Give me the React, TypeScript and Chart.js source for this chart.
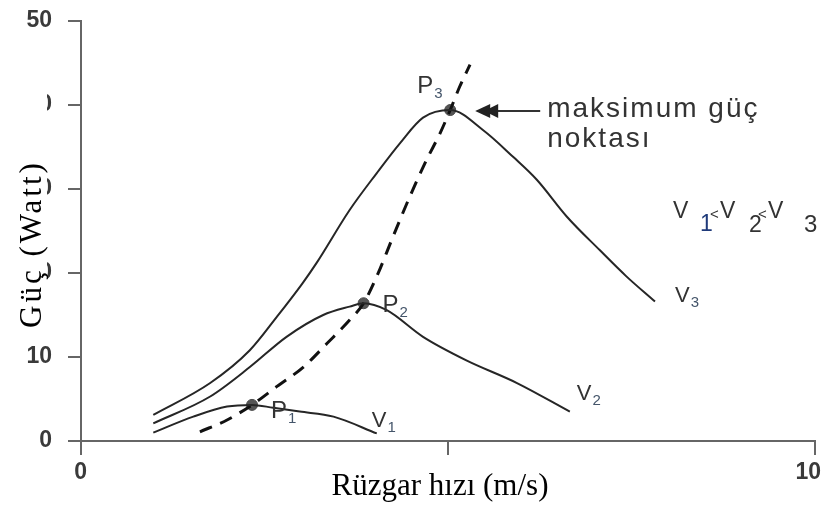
import React, { useEffect, useRef } from "react";
import { Chart, registerables } from "chart.js";

Chart.register(...registerables);

// Wind speed (m/s) and power (W) along each turbine curve
const speedV1 = [0.985, 1.53, 1.99, 2.33, 2.62, 2.98, 3.44, 4.03];
const powerV1 = [1.0, 2.9, 4.1, 4.3, 3.95, 3.5, 2.9, 0.9];

const speedV2 = [0.985, 1.76, 2.3, 2.8, 3.3, 3.66, 3.85, 4.16, 4.66, 5.25, 5.94, 6.66];
const powerV2 = [2.1, 5.3, 8.8, 12.4, 15.0, 16.0, 16.4, 15.6, 12.4, 9.6, 6.9, 3.5];

const speedV3 = [0.985, 1.76, 2.3, 2.67, 3.02, 3.21, 3.66, 4.03, 4.35, 4.66, 5.03, 5.48, 5.89, 6.21, 6.62, 7.07, 7.43, 7.82];
const powerV3 = [3.1, 6.9, 10.8, 14.8, 18.8, 21.2, 27.5, 31.9, 35.5, 38.5, 39.4, 37.0, 33.8, 31.1, 26.7, 22.7, 19.6, 16.6];

// Maximum power point tracking curve
const speedMpp = [1.62, 1.99, 2.33, 2.67, 3.03, 3.35, 3.66, 3.85, 4.03, 4.25, 4.48, 4.71, 4.89, 5.03, 5.16, 5.3];
const powerMpp = [1.1, 2.5, 4.3, 6.5, 8.8, 11.6, 14.4, 16.4, 19.6, 24.3, 29.1, 33.5, 36.6, 39.4, 42.2, 44.8];

// Peak points P1..P3
const peakSpeed = [2.33, 3.85, 5.03];
const peakPower = [4.3, 16.4, 39.4];
const peakSubs = ["1", "2", "3"];
const curveSubs = ["1", "2", "3"];

const xTicksShown = [0, 10];
const xTitle = "Rüzgar hızı (m/s)";
const yTitle = "Güç (Watt)";
const noteLines = ["maksimum güç", "noktası"];

const toPts = (xs: number[], ys: number[]) => xs.map((x, i) => ({ x, y: ys[i] }));

const SANS = '"Liberation Sans", Arial, sans-serif';
const SERIF = '"Liberation Serif", "Times New Roman", serif';

function subbed(
  ctx: CanvasRenderingContext2D,
  main: string,
  sub: string,
  x: number,
  base: number,
  mainSize: number,
  subSize: number,
  drop: number,
  color: string,
  subColor: string
) {
  ctx.font = `${mainSize}px ${SANS}`;
  ctx.fillStyle = color;
  ctx.fillText(main, x, base);
  const w = ctx.measureText(main).width;
  ctx.font = `${subSize}px ${SANS}`;
  ctx.fillStyle = subColor;
  ctx.fillText(sub, x + w + 1, base + drop);
}

const annotate = {
  id: "annotate",
  afterDraw(chart: any) {
    const { ctx } = chart;
    const xs = chart.scales.x;
    const ys = chart.scales.y;
    const px = (v: number) => xs.getPixelForValue(v);
    const py = (v: number) => ys.getPixelForValue(v);
    ctx.save();
    ctx.textAlign = "left";
    ctx.textBaseline = "alphabetic";

    // P labels next to each peak
    const pOff = [
      [19, 13],
      [19, 9],
      [-33, -17],
    ];
    peakSpeed.forEach((s, i) => {
      const x0 = px(s) + pOff[i][0];
      const b0 = py(peakPower[i]) + pOff[i][1];
      subbed(ctx, "P", peakSubs[i], x0, b0, 24, 15, 5, "#333", "#44556a");
    });

    // V labels at curve ends
    const ends = [
      [speedV1[speedV1.length - 1], powerV1[powerV1.length - 1], -5, -6],
      [speedV2[speedV2.length - 1], powerV2[powerV2.length - 1], 7, -12],
      [speedV3[speedV3.length - 1], powerV3[powerV3.length - 1], 20, 0],
    ];
    ends.forEach((e, i) => {
      subbed(ctx, "V", curveSubs[i], px(e[0]) + e[2], py(e[1]) + e[3], 22, 15, 5, "#333", "#44556a");
    });

    // V1<V2<V3
    const bx = 673;
    const bb = 218;
    const parts: [string, number, number, number, string][] = [
      ["V", 0, 0, 23, "#333"],
      ["1", 27, 13, 23, "#1f3a7a"],
      ["<", 37, 1, 15, "#333"],
      ["V", 47, 0, 23, "#333"],
      ["2", 76, 14, 23, "#333"],
      ["<", 85, 1, 15, "#333"],
      ["V", 95, 0, 23, "#333"],
      ["3", 131, 14, 24, "#333"],
    ];
    parts.forEach(([t, dx, dy, size, col]) => {
      ctx.font = `${size}px ${SANS}`;
      ctx.fillStyle = col;
      ctx.fillText(t, bx + dx, bb + dy);
    });

    // arrow pointing at the maximum power point
    const ax = px(peakSpeed[2]);
    const ay = py(peakPower[2]) + 1;
    ctx.strokeStyle = "#333";
    ctx.fillStyle = "#222";
    ctx.lineWidth = 2;
    ctx.beginPath();
    ctx.moveTo(ax + 44, ay);
    ctx.lineTo(ax + 90, ay);
    ctx.stroke();
    [[25, 40], [34, 48]].forEach(([tip, base]) => {
      ctx.beginPath();
      ctx.moveTo(ax + tip, ay);
      ctx.lineTo(ax + base, ay - 7);
      ctx.lineTo(ax + base, ay + 7);
      ctx.closePath();
      ctx.fill();
    });

    ctx.font = `28px ${SANS}`;
    ctx.fillStyle = "#333";
    ctx.letterSpacing = "2px";
    ctx.fillText(noteLines[0], ax + 97, ay + 6);
    ctx.fillText(noteLines[1], ax + 97, ay + 36);
    ctx.letterSpacing = "0px";

    // axis titles
    ctx.font = `31px ${SERIF}`;
    ctx.fillStyle = "#000";
    ctx.textAlign = "center";
    ctx.fillText(xTitle, 440, 495);

    ctx.fillStyle = "#fff";
    ctx.fillRect(0, 88, 47, 250);
    ctx.translate(33, 244);
    ctx.rotate(-Math.PI / 2);
    ctx.fillStyle = "#000";
    ctx.textBaseline = "middle";
    ctx.letterSpacing = "3px";
    ctx.fillText(yTitle, 0, 0);
    ctx.restore();
  },
};

export default function App() {
  const ref = useRef<HTMLCanvasElement | null>(null);

  useEffect(() => {
    if (!ref.current) return;
    Chart.defaults.font.family = SANS;
    const curve = (label: string, xs: number[], ys: number[]) => ({
      label,
      data: toPts(xs, ys),
      borderColor: "#262626",
      borderWidth: 2,
      cubicInterpolationMode: "monotone" as const,
      pointRadius: 0,
      fill: false,
    });
    const tickFont = { size: 23, weight: "bold" as const };
    const chart = new Chart(ref.current, {
      type: "line",
      data: {
        datasets: [
          curve("V1", speedV1, powerV1),
          curve("V2", speedV2, powerV2),
          curve("V3", speedV3, powerV3),
          {
            label: "MPP",
            data: toPts(speedMpp, powerMpp),
            borderColor: "#111",
            borderWidth: 3,
            borderDash: [13, 9],
            cubicInterpolationMode: "monotone",
            pointRadius: 0,
            fill: false,
          },
          {
            type: "scatter",
            label: "P",
            data: toPts(peakSpeed, peakPower),
            pointRadius: 5.5,
            pointBackgroundColor: "#555",
            pointBorderColor: "#4a4a4a",
            showLine: false,
          } as any,
        ],
      },
      options: {
        animation: false,
        responsive: false,
        layout: { padding: { top: 21, right: 10, left: 0, bottom: 0 } },
        plugins: { legend: { display: false }, tooltip: { enabled: false } },
        scales: {
          x: {
            type: "linear",
            min: 0,
            max: 10,
            ticks: {
              stepSize: 5,
              autoSkip: false,
              maxRotation: 0,
              padding: 4,
              align: "end",
              labelOffset: 6,
              color: "#3a3a3a",
              font: tickFont,
              callback: (v: any) => (xTicksShown.includes(Number(v)) ? String(v) : ""),
            },
            grid: { drawOnChartArea: false, drawTicks: true, tickLength: 14, color: "#666", lineWidth: 2 },
            border: { display: true, color: "#666", width: 2 },
            afterFit: (s: any) => {
              s.height = 65;
              s.paddingLeft = 0;
              s.paddingRight = 0;
            },
          },
          y: {
            type: "linear",
            min: 0,
            max: 50,
            ticks: { stepSize: 10, padding: 16, color: "#3a3a3a", font: tickFont },
            grid: { drawOnChartArea: false, drawTicks: true, tickLength: 13, color: "#666", lineWidth: 2 },
            border: { display: true, color: "#666", width: 2 },
            afterFit: (s: any) => {
              s.width = 81;
              s.paddingTop = 0;
              s.paddingBottom = 0;
            },
          },
        },
      },
      plugins: [annotate],
    });
    return () => chart.destroy();
  }, []);

  return (
    <div style={{ position: "absolute", left: 0, top: 0, width: 825, height: 506, background: "#fff" }}>
      <canvas ref={ref} width={825} height={506} />
    </div>
  );
}
